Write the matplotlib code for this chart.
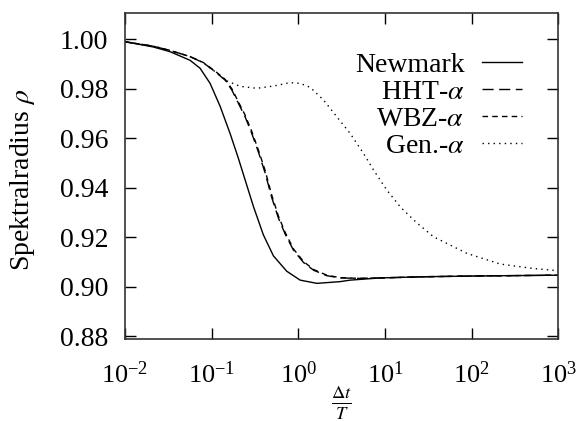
import numpy as np
import matplotlib
matplotlib.use('Agg')
import matplotlib.pyplot as plt
from matplotlib.ticker import NullLocator

plt.rcParams['font.family'] = 'Liberation Serif'
plt.rcParams['mathtext.fontset'] = 'stix'
plt.rcParams['font.size'] = 20

# Spektralradius ueber dt/T
dt_newmark = [0.01, 0.0149, 0.0212, 0.0331, 0.0564, 0.0735, 0.0959, 0.125, 0.163, 0.203,
              0.232, 0.303, 0.395, 0.516, 0.735, 1.05, 1.64, 3.04, 3.96, 8.81, 31.6, 126, 1000]
rho_newmark = [0.9990, 0.9979, 0.9969, 0.9950, 0.9915, 0.9883, 0.9822, 0.9730, 0.9620, 0.9520,
               0.9455, 0.9325, 0.9210, 0.9125, 0.9063, 0.9027, 0.9014, 0.9021, 0.9027, 0.9036,
               0.9041, 0.9044, 0.9047]

dt_alpha = [0.01, 0.0212, 0.0331, 0.0564, 0.0802, 0.109, 0.143, 0.171, 0.203, 0.243, 0.290,
            0.346, 0.414, 0.494, 0.589, 0.705, 0.879, 1.15, 1.50, 2.13, 3.04, 5.18, 8.81,
            31.6, 126, 1000]
rho_hht = [0.9990, 0.9972, 0.9955, 0.9930, 0.9905, 0.9870, 0.9835, 0.9795, 0.9742, 0.9687,
           0.9620, 0.9545, 0.9460, 0.9360, 0.9278, 0.9213, 0.9148, 0.9098, 0.9067, 0.9045,
           0.9036, 0.9034, 0.9036, 0.9041, 0.9044, 0.9047]
rho_wbz = [0.9990, 0.9972, 0.9955, 0.9930, 0.9906, 0.9872, 0.9838, 0.9800, 0.9748, 0.9694,
           0.9628, 0.9553, 0.9470, 0.9370, 0.9286, 0.9220, 0.9153, 0.9102, 0.9070, 0.9047,
           0.9037, 0.9034, 0.9036, 0.9041, 0.9044, 0.9047]

dt_gen = [0.01, 0.0212, 0.0331, 0.0564, 0.0802, 0.109, 0.149, 0.213, 0.331, 0.516, 0.804,
          1.05, 1.37, 1.95, 2.78, 3.96, 5.65, 7.38, 10.5, 15.0, 23.0, 36.4, 88.3, 214, 519, 1000]
rho_gen = [0.9990, 0.9972, 0.9955, 0.9930, 0.9905, 0.9870, 0.9832, 0.9810, 0.9802, 0.9811,
           0.9825, 0.9822, 0.9806, 0.9755, 0.9687, 0.9620, 0.9539, 0.9472, 0.9391, 0.9323,
           0.9260, 0.9202, 0.9135, 0.9092, 0.9074, 0.9065]

y_ticks = [0.88, 0.90, 0.92, 0.94, 0.96, 0.98, 1.00]

fig = plt.figure(figsize=(5.76, 4.21), dpi=100)
ax = fig.add_axes([125 / 576, 1 - 339.3 / 421, 433.3 / 576, 326 / 421])

ax.plot(dt_newmark, rho_newmark, color='k', lw=1.0, label='Newmark')
ax.plot(dt_alpha, rho_hht, color='k', lw=1.0, dashes=(8, 4), label=r'HHT-$\alpha$')
ax.plot(dt_alpha, rho_wbz, color='k', lw=1.0, dashes=(4, 3), label=r'WBZ-$\alpha$')
ax.plot(dt_gen, rho_gen, color='k', lw=1.0, dashes=(1, 3), label=r'Gen.-$\alpha$')

ax.set_xscale('log')
ax.set_xlim(0.01, 1000)
ax.set_ylim(0.8788, 1.0105)
ax.set_yticks(y_ticks)
ax.yaxis.set_major_formatter('{x:.2f}')
ax.xaxis.set_minor_locator(NullLocator())
ax.tick_params(which='both', direction='in', top=True, right=True, length=8, width=1)
ax.tick_params(axis='y', pad=12)
ax.tick_params(axis='x', pad=16, labelsize=19)
for s in ax.spines.values():
    s.set_linewidth(1.2)
    s.set_color('#333333')

ax.set_xlabel(r'$\frac{\Delta t}{T}$', va='center', fontsize=19)
ax.xaxis.set_label_coords(0.5, -0.195)
ax.set_ylabel(r'Spektralradius $\rho$')
ax.yaxis.set_label_coords(-0.203, 0.49)

ax.legend(loc='upper right', bbox_to_anchor=(0.916, 0.88), frameon=False, markerfirst=False,
          handlelength=1.42, handletextpad=0.65, labelspacing=0.06, borderaxespad=0, borderpad=0)

fig.savefig('out.png', dpi=100)
